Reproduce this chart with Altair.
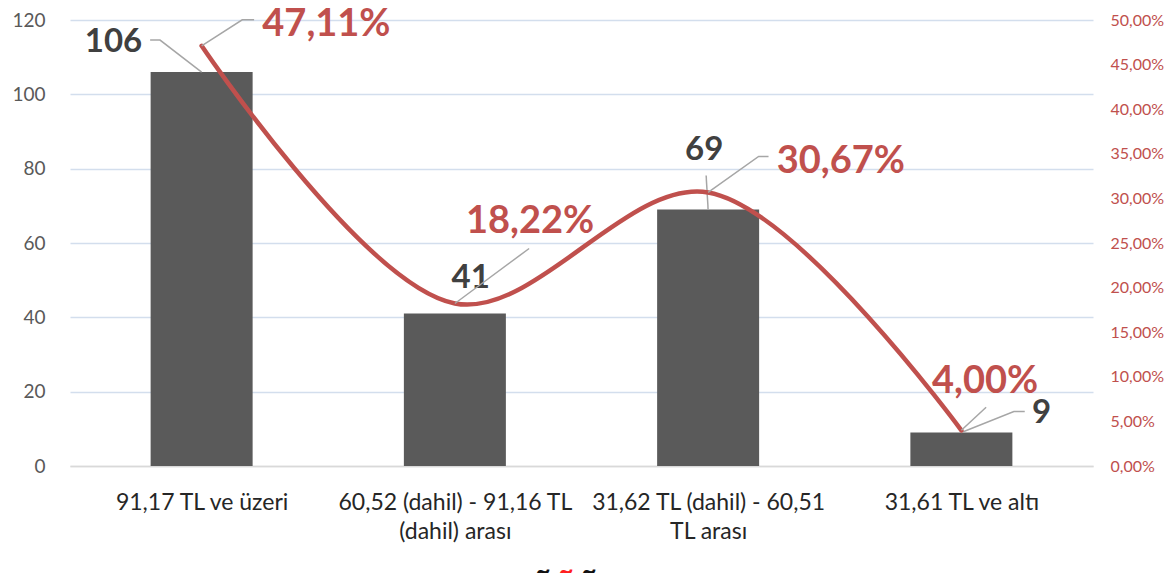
import json
import altair as alt
import pandas as pd

# ---------------- data ----------------
CATEGORIES = [
    "91,17 TL ve üzeri",
    "60,52 (dahil) - 91,16 TL\n(dahil) arası",
    "31,62 TL (dahil) - 60,51\nTL arası",
    "31,61 TL ve altı",
]
COUNTS = [106, 41, 69, 9]
PERCENTS = [47.11, 18.22, 30.67, 4.00]
COUNT_LABELS = ["106", "41", "69", "9"]
PERCENT_LABELS = ["47,11%", "18,22%", "30,67%", "4,00%"]
LEFT_TICKS = [0, 20, 40, 60, 80, 100, 120]
RIGHT_TICKS = [0.0, 0.05, 0.10, 0.15, 0.20, 0.25, 0.30, 0.35, 0.40, 0.45, 0.50]
LEGEND_SYMBOLS = ["~", "~", "~"]

# ---------------- style ----------------
W, H = 1023, 446
X_DOMAIN = [-0.5, 3.5]
C_DOMAIN = [0, 120]
P_DOMAIN = [0, 0.5]
PX_X = W / (X_DOMAIN[1] - X_DOMAIN[0])
PX_C = H / (C_DOMAIN[1] - C_DOMAIN[0])
PX_P = H / (P_DOMAIN[1] - P_DOMAIN[0])

BAR_COLOR = "#5A5A5A"
LINE_COLOR = "#C0504D"
LEADER_COLOR = "#A6A6A6"
FONT = "Lato"

# label offsets (pixels, from the data point)
COUNT_LABEL_OFFSET = [(-89, -30), (16, -36), (-4, -60), (81, -20)]
PCT_LABEL_OFFSET = [(126, -21), (76, -81), (134, -30), (24, -48)]
COUNT_LEADERS = {0: [(0, 0), (-42, -32), (-52, -32)],
                 2: [(0, 0), (-2, -34)],
                 3: [(0, 0), (53, -21), (64, -21)]}
PCT_LEADERS = {0: [(0, 0), (41, -26), (53, -26)],
               1: [(0, 0), (75, -55)],
               2: [(0, 0), (51, -36), (61, -36)],
               3: [(0, 0), (25, -23)]}

idx = list(range(len(CATEGORIES)))
pct = [p / 100 for p in PERCENTS]

bars_df = pd.DataFrame({"idx": idx, "count": COUNTS, "category": CATEGORIES})
line_df = pd.DataFrame({"idx": idx, "pct": pct})

c_lbl = pd.DataFrame({
    "idx": [i + COUNT_LABEL_OFFSET[i][0] / PX_X for i in idx],
    "count": [COUNTS[i] - COUNT_LABEL_OFFSET[i][1] / PX_C for i in idx],
    "label": COUNT_LABELS,
})
p_lbl = pd.DataFrame({
    "idx": [i + PCT_LABEL_OFFSET[i][0] / PX_X for i in idx],
    "pct": [pct[i] - PCT_LABEL_OFFSET[i][1] / PX_P for i in idx],
    "label": PERCENT_LABELS,
})

c_lead_rows, p_lead_rows = [], []
for i, pts in COUNT_LEADERS.items():
    for s, (dx, dy) in enumerate(pts):
        c_lead_rows.append({"id": i, "seq": s, "idx": i + dx / PX_X, "count": COUNTS[i] - dy / PX_C})
for i, pts in PCT_LEADERS.items():
    for s, (dx, dy) in enumerate(pts):
        p_lead_rows.append({"id": i, "seq": s, "idx": i + dx / PX_X, "pct": pct[i] - dy / PX_P})
c_lead = pd.DataFrame(c_lead_rows)
p_lead = pd.DataFrame(p_lead_rows)

# ---------------- scales / axes ----------------
x_scale = alt.Scale(domain=X_DOMAIN, nice=False, zero=False)
label_expr = json.dumps([c.split("\n") for c in CATEGORIES], ensure_ascii=False) + "[datum.value]"
x_axis = alt.Axis(values=idx, labelExpr=label_expr, ticks=False, grid=False,
                  domain=True, domainColor="#D9D9D9", domainWidth=1.5,
                  labelFont=FONT, labelFontSize=23, labelColor="#262626",
                  labelPadding=25, labelLineHeight=29, labelOverlap=False,
                  labelFlush=False, labelBound=False, labelLimit=0, title=None)

c_scale = alt.Scale(domain=C_DOMAIN, nice=False, zero=True)
c_axis = alt.Axis(values=LEFT_TICKS, format="d", grid=True,
                  gridColor=alt.condition("datum.value == 0", alt.value("#D9D9D9"), alt.value("#D3DEED")),
                  gridWidth=1.5, ticks=False, domain=False,
                  labelFont=FONT, labelFontSize=19, labelColor="#595959",
                  labelPadding=25, title=None)

p_scale = alt.Scale(domain=P_DOMAIN, nice=False, zero=True)
p_axis = alt.Axis(orient="right", values=RIGHT_TICKS,
                  labelExpr="replace(format(datum.value, '.2%'), '.', ',')",
                  grid=False, ticks=False, domain=False,
                  labelFont=FONT, labelFontSize=16, labelColor=LINE_COLOR,
                  labelPadding=17, labelLimit=0, title=None)

X = alt.X("idx:Q", scale=x_scale, axis=x_axis)
YC = alt.Y("count:Q", scale=c_scale, axis=c_axis)
YP = alt.Y("pct:Q", scale=p_scale, axis=p_axis)

# ---------------- left (counts) ----------------
bars = alt.Chart(bars_df).mark_bar(size=102, color=BAR_COLOR).encode(x=X, y=YC)
c_leaders = alt.Chart(c_lead).mark_line(color=LEADER_COLOR, strokeWidth=1.5).encode(
    x=X, y=YC, detail="id:N", order="seq:Q",
)
c_text = alt.Chart(c_lbl).mark_text(font=FONT, fontSize=33, fontWeight="bold",
                                    color="#404040", baseline="middle", align="center").encode(
    x=X, y=YC, text="label:N",
)
left = alt.layer(bars, c_leaders, c_text)

# ---------------- right (percent) ----------------
line = alt.Chart(line_df).mark_line(color=LINE_COLOR, strokeWidth=4.5,
                                    interpolate="catmull-rom", strokeCap="round").encode(x=X, y=YP)
p_leaders = alt.Chart(p_lead).mark_line(color=LEADER_COLOR, strokeWidth=1.5).encode(
    x=X, y=YP, detail="id:N", order="seq:Q",
)
p_text = alt.Chart(p_lbl).mark_text(font=FONT, fontSize=38, fontWeight="bold",
                                    color=LINE_COLOR, baseline="middle", align="center").encode(
    x=X, y=YP, text="label:N",
)
right = alt.layer(line, p_leaders, p_text)

# ---------------- legend remnant ----------------
tilde_colors = ["#111111", "#FF1F1F", "#111111"]
tilde_x = [473, 496, 519]
tildes = [
    alt.Chart(alt.Data(values=[{}])).mark_text(
        text=LEGEND_SYMBOLS[k], font=FONT, fontSize=26, fontWeight="bold",
        color=tilde_colors[k], align="center", baseline="middle",
    ).encode(x=alt.value(tilde_x[k]), y=alt.value(552))
    for k in range(3)
]

chart = alt.layer(left, right, *tildes).resolve_scale(y="independent").properties(
    width=W, height=H,
    autosize=alt.AutoSizeParams(type="none"),
    padding={"left": 62, "top": 12, "right": 73, "bottom": 107},
    background="white",
).configure_view(stroke=None)

chart.save("out.html", embed_options={"renderer": "svg", "actions": False})
